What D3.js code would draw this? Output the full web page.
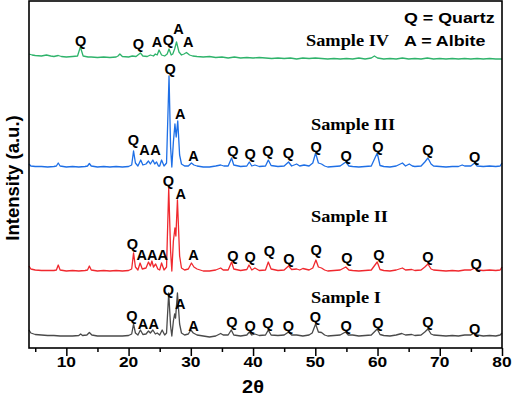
<!DOCTYPE html>
<html>
<head>
<meta charset="utf-8">
<script src="https://cdn.jsdelivr.net/npm/d3@7"></script>
<style>
  body { margin: 0; background: #fff; }
  svg { display: block; }
</style>
</head>
<body>
<div id="chart"></div>
<script>
// Patterns: [2theta, intensity above own baseline]
const sampleI = [[4,6],[4.3,3],[5,1.5],[6,1],[7,0.5],[8,0.5],[9,0],[10,0],[11,0],[12,0.5],[12.3,2],[12.6,0.5],[13.3,1],[13.7,3.5],[14.1,1],[15,0],[16,0],[17,0],[18,0],[19,0],[20,0.5],[20.5,2],[20.8,12],[21.1,3],[21.5,1],[21.9,6],[22.3,1.5],[22.8,2],[23.2,5],[23.5,3],[23.9,6],[24.3,2],[24.6,3],[25,1],[25.4,6],[25.8,1],[26.1,3],[26.45,43],[26.75,10],[26.95,0],[27.2,15],[27.4,22],[27.55,18],[27.85,43],[28.2,12],[28.5,3],[29,1],[29.6,2],[30,6],[30.4,3],[31,1],[32,0],[33,-1],[34,0],[34.8,2.5],[35.2,1],[36,1],[36.5,6],[36.9,1],[38,0],[39,1],[39.4,4],[39.8,1],[40.3,2],[41,0.5],[42,1],[42.45,6],[42.9,1],[44,0.5],[45,1],[45.7,4],[46.2,1],[47,1],[48,0],[49,1],[49.5,3],[50.05,12],[50.5,4],[51,3.5],[51.5,1],[52,0],[53,0.5],[54,1],[54.85,4],[55.3,1],[56,1],[57,0],[58,0.5],[59,1],[59.95,7],[60.4,1.5],[61,0.5],[62,0],[63,1],[63.9,2.5],[64.5,1],[65.5,1.5],[66,0.5],[67,1],[67.6,4],[68.1,7],[68.6,2],[69,1],[70,0.5],[71,0],[72,0.5],[73,0],[74,1],[75,1],[75.5,3],[76,1],[77,0],[78,0.5],[79,0],[79.7,1],[80,3]];
const sampleII = [[4,5],[4.3,2],[5,1],[6,0.5],[7,0.5],[8,0.5],[8.4,1],[8.7,6],[9,1],[10,0],[11,0.5],[12,0],[13,0.5],[13.4,1],[13.7,5],[14,1],[15,0],[16,0.5],[17,0],[18,0.5],[19,0],[20,0.5],[20.5,2],[20.8,18],[21.1,4],[21.5,1],[21.85,8],[22.2,2],[22.8,3],[23.2,9],[23.5,5],[23.75,10],[24,4],[24.35,7],[24.7,2],[25,1],[25.3,8],[25.7,1],[26.1,4],[26.45,83],[26.75,20],[26.95,0],[27.2,30],[27.45,43],[27.6,35],[27.85,71],[28.2,15],[28.5,3],[29,1],[29.6,2],[30.1,8],[30.5,4],[31,2],[32,0],[33,0],[34,1],[34.8,3],[35.2,1],[36,1],[36.55,9],[36.9,2],[38,0.5],[39,1.5],[39.35,6],[39.8,1],[40.3,3],[41,0.5],[42,1],[42.45,9],[42.9,2],[44,0.5],[45,1],[45.7,5],[46.2,1.5],[47,2],[47.5,1],[48,2.5],[49,1],[49.6,3],[50.1,11],[50.5,4],[51,3],[51.5,1],[52,0],[53,0.5],[54,1],[54.9,4],[55.4,1],[56,0.5],[57,0],[58,0.5],[59,1],[59.95,9],[60.4,1.5],[61,0.5],[62,0],[63,1],[64,3],[64.5,1],[65.5,1.5],[66,0.5],[67,1],[67.6,4],[68.1,7],[68.6,2],[69,1],[70,0.5],[71,0],[72,0.5],[73,0],[74,1],[75,1],[75.6,3],[76,1],[77,0.5],[78,1],[79,0.5],[79.7,1],[80,4]];
const sampleIII = [[4,3],[4.3,1],[5,0.5],[6,0.5],[7,0],[8,0.5],[8.4,1],[8.7,4],[9,1],[10,0],[11,0.5],[12,0],[13,0.5],[13.4,1],[13.7,3.5],[14,1],[15,0],[16,0.5],[17,0],[18,0.5],[19,0],[20,0.5],[20.5,2],[20.8,16],[21.1,4],[21.5,1],[21.95,7],[22.3,2],[22.8,3],[23.2,6],[23.5,3],[23.9,7],[24.2,3],[24.5,5],[24.8,1],[25,1],[25.3,7],[25.7,1],[26.1,4],[26.5,91],[26.75,20],[26.95,0],[27.2,25],[27.45,43],[27.65,30],[27.9,46],[28.2,12],[28.5,3],[29,1],[29.6,1],[30.1,4],[30.5,2],[31,1],[32,0],[33,0],[34,1],[34.8,2],[35.3,1],[36,1],[36.55,9],[36.9,2],[38,0.5],[39,1],[39.4,5],[39.8,1],[40.3,2],[41,0.5],[42,1],[42.45,7],[42.9,1.5],[44,0.5],[45,1],[45.7,5],[46.2,1],[47,3],[47.5,1],[48.2,2],[49,1],[49.6,4],[50.05,14],[50.5,4],[51,3],[51.5,1],[52,0],[53,0.5],[54,1],[54.9,5],[55.4,1],[56,0.5],[57,0],[58,0.5],[59,1],[59.95,14],[60.4,1.5],[61,0.5],[62,0],[63,1],[64,4],[64.5,1],[65.1,3],[65.6,1],[66,0.5],[67,1],[67.6,5],[68.1,9],[68.6,3],[69,1],[70,0.5],[71,0],[72,0.5],[73,0.5],[73.6,2],[74,1],[75,1],[75.6,4],[76,1],[77,0.5],[78,1],[79,0.5],[79.7,1],[80,4]];
const sampleIV = [[4,3],[4.5,2],[5,1.5],[6,1],[6.8,2],[7.5,1],[8,0.5],[8.7,1.5],[9.2,0.5],[10,0],[11,0.5],[11.8,1],[12.25,10],[12.7,1],[13.5,0],[14,0],[15,-0.5],[16,0],[17,-0.5],[18,0],[18.3,1],[18.6,3],[19,0.5],[20,0],[20.6,1],[21.2,0.5],[21.9,4],[22.3,1],[23,0.5],[23.5,2],[24,1],[24.3,3],[24.6,2],[24.9,7],[25.3,2],[25.8,1],[26.2,3],[26.5,8],[26.85,2],[27.1,3],[27.4,8],[27.7,15],[28.1,5],[28.5,2],[28.9,3],[29.3,4.5],[29.8,2],[30.3,1],[31,0.5],[32,0],[33,0.5],[34,-0.5],[35,0],[36,-1],[37,0],[38,-1],[39,-0.5],[40,-1],[41,-0.5],[42,-1],[43,-1.5],[44,-1],[45,-1.5],[46,-1],[47,-2],[48,-1],[49,-1.5],[50,-1],[51,-1.5],[52,-2],[53,-1.5],[54,-2],[55,-1.5],[56,-2],[57,-1],[58,-2],[59,-1],[59.5,1],[60,-1],[61,-2],[62,-1.5],[63,-2],[64,-1],[65,-2],[66,-1.5],[67,-2],[68,-1],[69,-2],[70,-1.5],[71,-2],[72,-1.5],[73,-2],[74,-1.5],[75,-2],[76,-1.5],[77,-2],[78,-1.5],[79,-2],[80,-2]];

// Phase marks: [2theta, intensity (stacked), phase]
const marksI = [[26.4,58.7,'Q'],[28.28,44.7,'A'],[20.55,33,'Q'],[22.3,24.7,'A'],[24.05,24.7,'A'],[30.41,23,'A'],[36.59,26.3,'Q'],[39.53,23,'Q'],[42.38,25.3,'Q'],[45.69,23,'Q'],[50.03,31.3,'Q'],[54.96,22.3,'Q'],[60.06,25.3,'Q'],[68.1,26.3,'Q'],[75.59,19.7,'Q']];
const marksII = [[26.4,168,'Q'],[28.39,154.7,'A'],[20.61,104.7,'Q'],[22.1,93.7,'A'],[23.8,93.7,'A'],[25.5,93.7,'A'],[30.41,93.7,'A'],[36.75,93,'Q'],[39.53,91.3,'Q'],[42.63,97.3,'Q'],[45.75,89.7,'Q'],[50.14,98.7,'Q'],[55.08,90.7,'Q'],[60.22,94,'Q'],[68.1,92,'Q'],[75.86,84.7,'Q']];
const marksIII = [[26.67,279.7,'Q'],[28.28,234.7,'A'],[20.77,208.7,'Q'],[22.54,198.7,'A'],[24.31,198.7,'A'],[30.41,193,'A'],[36.75,197.3,'Q'],[39.53,194.7,'Q'],[42.38,197.3,'Q'],[45.69,195.3,'Q'],[50.14,202,'Q'],[54.96,193,'Q'],[60.06,202,'Q'],[68.1,198.7,'Q'],[75.59,191.3,'Q']];
const marksIV = [[12.31,308,'Q'],[21.57,304.7,'Q'],[24.55,307,'A'],[26.4,308.7,'Q'],[28.0,319.7,'A'],[29.6,306.3,'A']];

const sampleNames = ['Sample I', 'Sample II', 'Sample III', 'Sample IV'];
const sampleOffsets = [12, 77, 181, 291];
const sampleColors = ['#4a4a4a', '#f0282e', '#1e6fe6', '#2fb36b'];
const sampleNamePos = [[49.3, 45], [49.3, 126], [49.3, 218], [48.5, 302]];
const legendLines = ['Q = Quartz', 'A = Albite'];
const majorTicks = [10, 20, 30, 40, 50, 60, 70, 80];
const minorTicks = [5, 15, 25, 35, 45, 55, 65, 75];

const patterns = [sampleI, sampleII, sampleIII, sampleIV];
const marks = [marksI, marksII, marksIII, marksIV];

// Dimensions
const width = 512;
const height = 398;
const plot = {left: 29, right: 502, top: 1, bottom: 348};

// Scales
const x = d3.scaleLinear().domain([4, 80]).range([plot.left, plot.right]);
const y = d3.scaleLinear().domain([0, 347]).range([plot.bottom, plot.top]);

const svg = d3.select('#chart')
  .append('svg')
    .attr('width', width)
    .attr('height', height)

const sans = 'Arial, "Liberation Sans", Helvetica, sans-serif';
const serif = '"Times New Roman", "Liberation Serif", serif';

// text is drawn a little wide, like the original figure
const addText = (px, py, str, size, family, anchor, stretch = 1.15) => {
  return svg.append('text')
    .attr('transform', `translate(${px},${py}) scale(${stretch},1)`)
    .attr('text-anchor', anchor)
    .attr('font-family', family)
    .attr('font-weight', 'bold')
    .attr('font-size', size)
    .attr('fill', '#000')
    .text(str)
}

// Traces
const line = d3.line().x((d) => x(d[0])).y((d) => y(d[1]));
patterns.forEach((p, i) => {
  svg.append('path')
    .datum(p.map((d) => [d[0], d[1] + sampleOffsets[i]]))
    .attr('d', line)
    .attr('fill', 'none')
    .attr('stroke', sampleColors[i])
    .attr('stroke-width', 1.3)
    .attr('stroke-linejoin', 'round')
})

// Phase letters
marks.forEach((m) => {
  m.forEach((d) => {
    addText(x(d[0]), y(d[1]) + 5.5, d[2], 14.5, sans, 'middle', 1.0)
  })
})

// Sample names
sampleNames.forEach((name, i) => {
  addText(x(sampleNamePos[i][0]), y(sampleNamePos[i][1]), name, 17, serif, 'start', 1.08)
})

// Legend
legendLines.forEach((t, i) => {
  addText(404, 23 + i * 22.5, t, 15.5, sans, 'start', 1.15)
})

// Frame
svg.append('rect')
  .attr('x', plot.left)
  .attr('y', plot.top)
  .attr('width', plot.right - plot.left)
  .attr('height', plot.bottom - plot.top)
  .attr('fill', 'none')
  .attr('stroke', '#000')
  .attr('stroke-width', 1.6)

// X axis
const axisG = svg.append('g').attr('transform', `translate(0,${plot.bottom})`);
axisG.call(d3.axisBottom(x).tickValues(majorTicks).tickSize(8).tickFormat(''))
axisG.call((g) => g.select('.domain').remove())
const minorG = svg.append('g').attr('transform', `translate(0,${plot.bottom})`);
minorG.call(d3.axisBottom(x).tickValues(minorTicks).tickSize(4).tickFormat(''))
minorG.call((g) => g.select('.domain').remove())
svg.selectAll('.tick line').attr('stroke', '#000').attr('stroke-width', 1.5)

majorTicks.forEach((t) => {
  addText(x(t), 367, t, 15.5, sans, 'middle', 1.12)
})

// Axis titles
addText(253, 393, '2θ', 19, sans, 'middle', 1.05)
svg.append('text')
  .attr('transform', 'translate(19,178) rotate(-90)')
  .attr('text-anchor', 'middle')
  .attr('font-family', sans)
  .attr('font-weight', 'bold')
  .attr('font-size', 18.5)
  .text('Intensity (a.u.)')
</script>
</body>
</html>
